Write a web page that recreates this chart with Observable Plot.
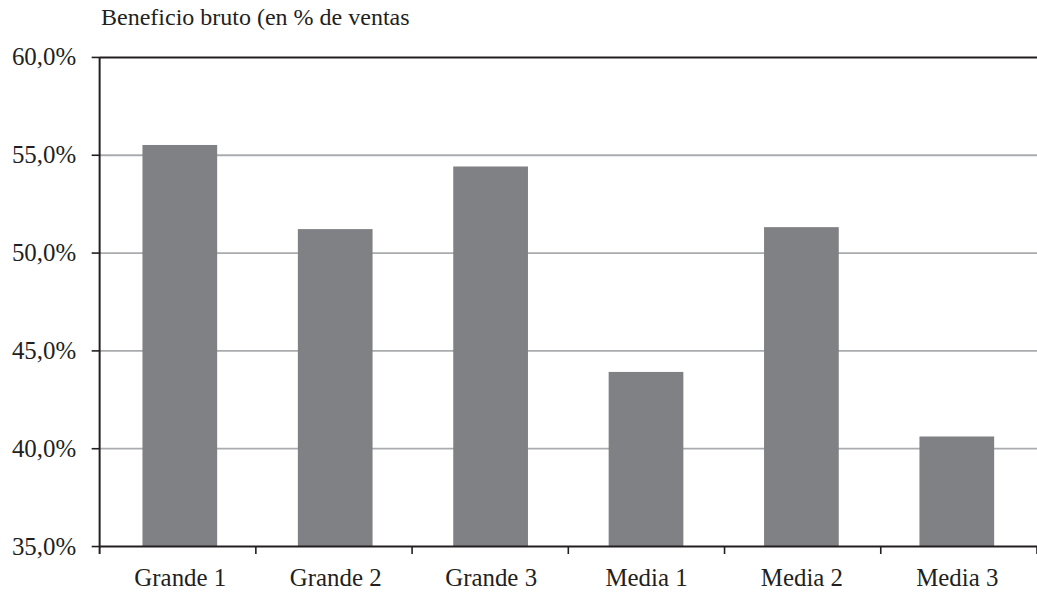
<!DOCTYPE html>
<html><head><meta charset="utf-8">
<script src="https://cdn.jsdelivr.net/npm/d3@7"></script>
<script src="https://cdn.jsdelivr.net/npm/@observablehq/plot@0.6"></script>
<style>
html,body{margin:0;padding:0;background:#fff;overflow:hidden;}
#title{font-family:"Liberation Serif",serif;font-size:24px;color:#231f20;height:40px;line-height:30px;padding-left:101px;box-sizing:border-box;padding-top:2px;white-space:nowrap;}
</style></head><body>
<div id="title">Beneficio bruto (en % de ventas</div>
<div id="chart"></div>
<script>
const categories = ["Grande 1", "Grande 2", "Grande 3", "Media 1", "Media 2", "Media 3"];
const values = [55.5, 51.2, 54.4, 43.9, 51.3, 40.6];
const yTicks = [35, 40, 45, 50, 55, 60];
const gridTicks = [40, 45, 50, 55];
const yDomain = [35, 60];

const data = categories.map((c, i) => ({category: c, value: values[i]}));
const fmt = d => d.toFixed(1).replace(".", ",") + "%";
const ink = "#231f20";

// left axis line and band-boundary ticks on the bottom axis
const axisDecor = (index, scales, vals, dims) => {
  const g = d3.create("svg:g").attr("stroke", ink);
  const n = categories.length;
  const x0 = dims.marginLeft, x1 = dims.width - dims.marginRight;
  const yb = scales.y(yDomain[0]), yt = scales.y(yDomain[1]);
  g.append("line").attr("x1", x0).attr("x2", x0).attr("y1", yt).attr("y2", yb + 8).attr("stroke-width", 2);
  for (let i = 1; i <= n; i++) {
    const xx = x0 + i * (x1 - x0) / n;
    g.append("line").attr("x1", xx).attr("x2", xx).attr("y1", yb).attr("y2", yb + 8).attr("stroke-width", 1.6);
  }
  return g.node();
};

const plot = Plot.plot({
  width: 1041, height: 555,
  marginTop: 17, marginBottom: 47, marginLeft: 100, marginRight: 0,
  style: {fontFamily: '"Liberation Serif", serif', fontSize: "25px", color: ink, background: "white", overflow: "visible"},
  x: {domain: categories, paddingInner: 0.52, paddingOuter: 0.26, label: null},
  y: {domain: yDomain, label: null},
  marks: [
    Plot.ruleY(gridTicks, {stroke: "#a9abae", strokeWidth: 1.8}),
    Plot.barY(data, {x: "category", y1: yDomain[0], y2: "value", fill: "#808184"}),
    Plot.ruleY([yDomain[1]], {stroke: ink, strokeWidth: 2}),
    Plot.ruleY([yDomain[0]], {stroke: ink, strokeWidth: 2}),
    Plot.axisY(yTicks, {tickSize: 8, tickPadding: 16, tickFormat: fmt, stroke: ink, strokeWidth: 1.6, fill: ink, fontSize: 25, label: null}),
    Plot.axisX({tickSize: 0, tickPadding: 22, fill: ink, fontSize: 25, label: null}),
    axisDecor
  ]
});
document.getElementById("chart").appendChild(plot);
</script>
</body></html>
